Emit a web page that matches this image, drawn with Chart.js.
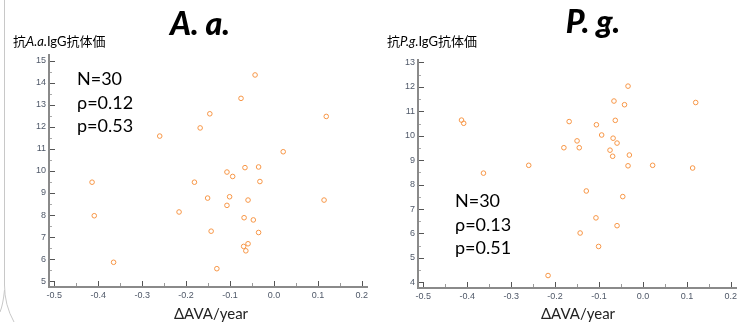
<!DOCTYPE html>
<html>
<head>
<meta charset="utf-8">
<script src="https://cdn.jsdelivr.net/npm/chart.js@4/dist/chart.umd.min.js"></script>
<style>
  html, body { margin: 0; padding: 0; background: #fff; }
  #wrap { position: relative; width: 753px; height: 322px; overflow: hidden; }
  #left { position: absolute; left: 0; top: 0; }
  #right { position: absolute; left: 376px; top: 0; }
</style>
</head>
<body>
<div id="wrap">
  <canvas id="left" width="376" height="322"></canvas>
  <canvas id="right" width="377" height="322"></canvas>
</div>
<script>
// ΔAVA/year と抗体価 (1点 = 1症例)
const aaDeltaAva = [-0.043, -0.075, -0.146, 0.119, -0.168, -0.260, 0.021, -0.107, -0.094, -0.066,
  -0.035, -0.414, -0.181, -0.032, -0.151, -0.101, -0.059, 0.114, -0.107, -0.409,
  -0.216, -0.068, -0.047, -0.143, -0.035, -0.059, -0.069, -0.064, -0.365, -0.130];
const aaIgG = [14.35, 13.29, 12.59, 12.47, 11.95, 11.58, 10.87, 9.95, 9.75, 10.15,
  10.18, 9.49, 9.49, 9.52, 8.77, 8.83, 8.68, 8.68, 8.44, 7.97,
  8.14, 7.88, 7.78, 7.27, 7.21, 6.70, 6.58, 6.38, 5.86, 5.57];

const pgDeltaAva = [-0.034, -0.066, -0.042, 0.120, -0.413, -0.408, -0.168, -0.063, -0.106, -0.094,
  -0.150, -0.068, -0.059, -0.180, -0.145, -0.075, -0.069, -0.031, -0.260, -0.034,
  0.022, 0.113, -0.363, -0.129, -0.046, -0.107, -0.059, -0.143, -0.101, -0.216];
const pgIgG = [12.03, 11.42, 11.27, 11.36, 10.64, 10.51, 10.58, 10.63, 10.45, 10.03,
  9.79, 9.90, 9.70, 9.51, 9.51, 9.41, 9.16, 9.21, 8.79, 8.77,
  8.79, 8.68, 8.47, 7.74, 7.51, 6.64, 6.32, 6.02, 5.47, 4.28];

const xTicks = [-0.5, -0.4, -0.3, -0.2, -0.1, 0.0, 0.1, 0.2];
const aaYTicks = [5, 6, 7, 8, 9, 10, 11, 12, 13, 14, 15];
const pgYTicks = [4, 5, 6, 7, 8, 9, 10, 11, 12, 13];

const aaStats = ["N=30", "ρ=0.12", "p=0.53"];
const pgStats = ["N=30", "ρ=0.13", "p=0.51"];

const ORANGE = "#f79646";
const AXIS = "#8a8a8a";
const TICKTXT = "#4f5868";
const LATIN = "Lato, 'Noto Sans CJK JP', sans-serif";

// 軸線・内向きの目盛・文字を描く
const decoPlugin = {
  id: "deco",
  afterDraw(chart, args, o) {
    const ctx = chart.ctx;
    const a = chart.chartArea;
    const xs = chart.scales.x, ys = chart.scales.y;
    ctx.save();

    // 目盛 (主・副)
    ctx.lineWidth = 1;
    xs.ticks.forEach((t, i) => {
      const px = Math.round(xs.getPixelForValue(t.value)) + 0.5;
      ctx.strokeStyle = "#555";
      ctx.beginPath(); ctx.moveTo(px, a.bottom); ctx.lineTo(px, a.bottom - 6); ctx.stroke();
      if (i < xs.ticks.length - 1) {
        const mx = Math.round(xs.getPixelForValue((t.value + xs.ticks[i + 1].value) / 2)) + 0.5;
        ctx.strokeStyle = "#999";
        ctx.beginPath(); ctx.moveTo(mx, a.bottom); ctx.lineTo(mx, a.bottom - 4); ctx.stroke();
      }
    });
    ys.ticks.forEach((t, i) => {
      const py = Math.round(ys.getPixelForValue(t.value)) + 0.5;
      ctx.strokeStyle = "#555";
      ctx.beginPath(); ctx.moveTo(a.left, py); ctx.lineTo(a.left + 6, py); ctx.stroke();
      if (i < ys.ticks.length - 1) {
        const my = Math.round(ys.getPixelForValue((t.value + ys.ticks[i + 1].value) / 2)) + 0.5;
        ctx.strokeStyle = "#aaa";
        ctx.beginPath(); ctx.moveTo(a.left, my); ctx.lineTo(a.left + 3, my); ctx.stroke();
      }
    });

    // 軸線
    ctx.strokeStyle = AXIS;
    ctx.lineWidth = 2;
    ctx.beginPath();
    ctx.moveTo(a.left, a.top);
    ctx.lineTo(a.left, a.bottom);
    ctx.lineTo(a.right, a.bottom);
    ctx.stroke();

    // タイトル
    ctx.fillStyle = "#000";
    ctx.textBaseline = "alphabetic";
    ctx.textAlign = "center";
    ctx.font = "italic 900 32px " + LATIN;
    ctx.fillText(o.title, o.titleX, o.titleY);

    // 縦軸タイトル (菌名のみ斜体)
    ctx.textAlign = "left";
    let x = o.yTitleX;
    o.yTitle.forEach(part => {
      ctx.font = (part.it ? "italic " : "") + "13px " + LATIN;
      ctx.fillText(part.t, x, 46);
      x += ctx.measureText(part.t).width;
    });

    // 横軸タイトル
    ctx.textAlign = "center";
    ctx.font = "15px " + LATIN;
    ctx.fillStyle = "#222";
    ctx.fillText("ΔAVA/year", o.xTitleX, 319);

    // 統計値
    ctx.textAlign = "left";
    ctx.fillStyle = "#000";
    ctx.font = "18px " + LATIN;
    o.stats.forEach((s, i) => ctx.fillText(s, o.statsX, o.statsY + i * 23.5));

    // スライド枠の線
    if (o.edge) {
      ctx.strokeStyle = "#c8c8c8";
      ctx.lineWidth = 1;
      ctx.beginPath();
      ctx.moveTo(4.5, 0); ctx.lineTo(4.5, 285);
      ctx.quadraticCurveTo(4.5, 305, 14, 322);
      ctx.moveTo(4.5, 290);
      ctx.quadraticCurveTo(3, 305, 0, 312);
      ctx.stroke();
    }
    ctx.restore();
  }
};

function makeChart(id, xv, yv, yTicks, yMin, yMax, lay, dopts) {
  return new Chart(document.getElementById(id), {
    type: "scatter",
    data: {
      datasets: [{
        data: xv.map((v, i) => ({ x: v, y: yv[i] })),
        pointRadius: 2.3,
        pointHoverRadius: 2.3,
        pointBorderWidth: 1,
        pointBorderColor: ORANGE,
        pointBackgroundColor: "rgba(255,255,255,0)"
      }]
    },
    options: {
      responsive: false,
      animation: false,
      devicePixelRatio: 1,
      layout: { padding: { top: lay.top, right: lay.right, left: 0, bottom: 0 } },
      plugins: { legend: { display: false }, tooltip: { enabled: false }, deco: dopts },
      scales: {
        x: {
          type: "linear", min: -0.512, max: 0.214,
          afterBuildTicks: s => { s.ticks = xTicks.map(v => ({ value: v })); },
          afterFit: s => { s.height = lay.xh; },
          grid: { display: false, drawTicks: false },
          border: { display: false },
          ticks: {
            autoSkip: false, maxRotation: 0, padding: 3,
            color: TICKTXT, font: { family: "'Liberation Sans', Arial", size: 9 },
            callback: v => v.toFixed(1)
          }
        },
        y: {
          type: "linear", min: yMin, max: yMax,
          afterBuildTicks: s => { s.ticks = yTicks.map(v => ({ value: v })); },
          afterFit: s => { s.width = lay.yw; },
          grid: { display: false, drawTicks: false },
          border: { display: false },
          ticks: {
            autoSkip: false, padding: 3,
            color: TICKTXT, font: { family: "'Liberation Sans', Arial", size: 9 },
            callback: v => String(v)
          }
        }
      }
    },
    plugins: [decoPlugin]
  });
}

makeChart("left", aaDeltaAva, aaIgG, aaYTicks, 4.74, 15.3,
  { top: 54, right: 8, yw: 49, xh: 35 },
  {
    title: "A. a.", titleX: 200, titleY: 35,
    yTitle: [{ t: "抗" }, { t: "A.a.", it: true }, { t: "IgG抗体価" }], yTitleX: 13,
    xTitleX: 211, stats: aaStats, statsX: 77, statsY: 85, edge: true
  });

makeChart("right", pgDeltaAva, pgIgG, pgYTicks, 3.77, 13.14,
  { top: 59, right: 16, yw: 42, xh: 34 },
  {
    title: "P. g.", titleX: 217, titleY: 33,
    yTitle: [{ t: "抗" }, { t: "P.g.", it: true }, { t: "IgG抗体価" }], yTitleX: 11,
    xTitleX: 202, stats: pgStats, statsX: 79, statsY: 207, edge: false
  });
</script>
</body>
</html>
